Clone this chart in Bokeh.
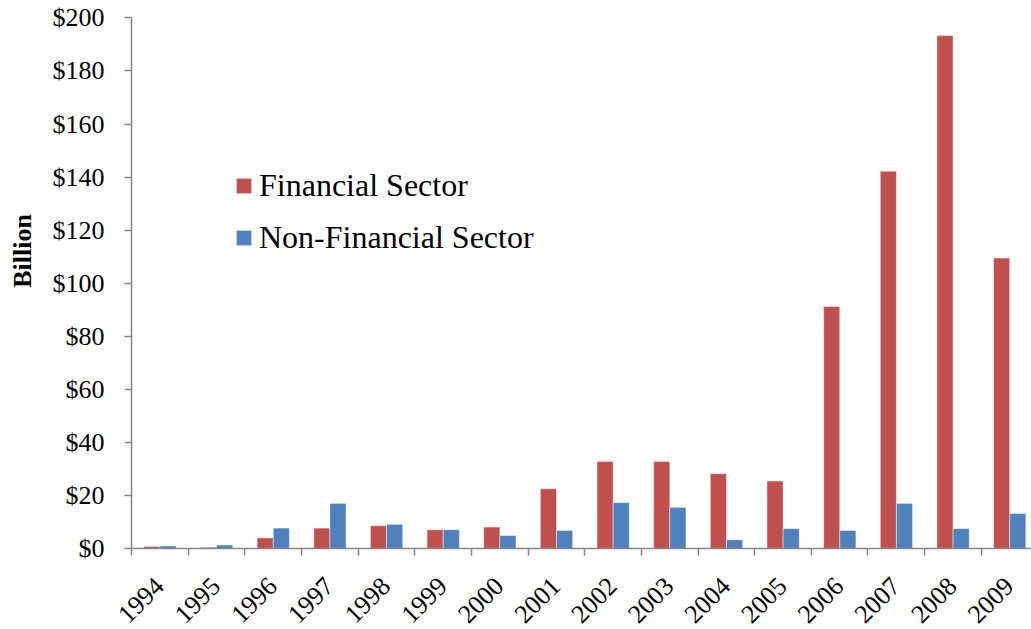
import numpy as np
from math import pi
from bokeh.plotting import figure
from bokeh.models import (ColumnDataSource, Range1d, FixedTicker, CustomJSTickFormatter,
                          NumeralTickFormatter, Legend, LegendItem, Label)
from bokeh.core.properties import value
from bokeh.embed import file_html
from bokeh.resources import INLINE

years = ["1994", "1995", "1996", "1997", "1998", "1999", "2000", "2001",
         "2002", "2003", "2004", "2005", "2006", "2007", "2008", "2009"]
financial = [0.9, 0.6, 4.1, 7.8, 8.7, 7.2, 8.2, 22.6, 32.9, 32.9, 28.3, 25.5,
             91.3, 142.2, 193.3, 109.5]
non_financial = [1.1, 1.4, 7.8, 17.1, 9.2, 7.2, 5.0, 6.9, 17.4, 15.6, 3.4, 7.6,
                 6.9, 17.1, 7.6, 13.3]
y_ticks = [0, 20, 40, 60, 80, 100, 120, 140, 160, 180, 200]
series_names = ["Financial Sector", "Non-Financial Sector"]
y_label = "Billion"

RED = "#C0504D"
BLUE = "#4F81BD"
AXIS = "#868686"
FONT = "Liberation Serif"

# canvas geometry (pixels): plot area from x=131 to the right edge, y=17..548
W, H = 1031, 629
AX_X, TOP_Y, BASE_Y = 131, 17.3, 548.3
PX_X = 56.65                      # pixels per category
PX_Y = (BASE_Y - TOP_Y) / 200.0   # pixels per billion
x_start, x_end = -AX_X / PX_X, (W - AX_X) / PX_X
y_start, y_end = -(H - BASE_Y) / PX_Y, 200 + TOP_Y / PX_Y

idx = np.arange(len(years))
src = ColumnDataSource(dict(year=years, fin=financial, nonfin=non_financial,
                            xf=idx + 0.36, xn=idx + 0.645,
                            xl=idx + 0.5 - 0.115,
                            yl=[-27 / PX_Y] * len(years)))

p = figure(width=W, height=H, output_backend="svg", toolbar_location=None,
           x_range=Range1d(x_start, x_end), y_range=Range1d(y_start, y_end),
           min_border=0, min_border_left=0, min_border_right=0,
           min_border_top=0, min_border_bottom=0)
p.outline_line_color = None
p.grid.visible = False

r1 = p.vbar(x="xf", top="fin", width=0.285, source=src, fill_color=RED,
            line_color="white", line_alpha=0.45, line_width=1)
r2 = p.vbar(x="xn", top="nonfin", width=0.285, source=src, fill_color=BLUE,
            line_color="white", line_alpha=0.45, line_width=1)

ya = p.yaxis[0]
ya.fixed_location = 0
ya.bounds = (0, 200)
ya.ticker = FixedTicker(ticks=y_ticks, minor_ticks=[])
ya.formatter = NumeralTickFormatter(format="$0")
ya.major_tick_in = 0
ya.major_tick_out = 7
ya.minor_tick_line_color = None
ya.axis_line_color = AXIS
ya.axis_line_width = 1.5
ya.major_tick_line_color = AXIS
ya.major_tick_line_width = 1.5
ya.major_label_text_font = FONT
ya.major_label_text_font_size = "26px"
ya.major_label_text_color = "black"
ya.major_label_standoff = 20

xa = p.xaxis[0]
xa.fixed_location = 0
xa.bounds = (0, x_end)
xa.ticker = FixedTicker(ticks=[], minor_ticks=list(range(0, len(years) + 1)))
xa.formatter = CustomJSTickFormatter(code="return '';")
xa.major_tick_line_color = None
xa.major_tick_in = 0
xa.major_tick_out = 0
xa.minor_tick_in = 0
xa.minor_tick_out = 7
xa.minor_tick_line_color = AXIS
xa.minor_tick_line_width = 1.5
xa.axis_line_color = AXIS
xa.axis_line_width = 1.5

# rotated year labels under each category
p.text(x="xl", y="yl", text="year", source=src, angle=pi / 4,
       text_align="right", text_baseline="top", text_font=value(FONT),
       text_font_size="26px", text_color="black")

lab = Label(x=(22 - AX_X) / PX_X, y=(BASE_Y - 250.5) / PX_Y, text=y_label,
            angle=pi / 2, text_align="center", text_baseline="middle",
            text_font=FONT, text_font_size="26px", text_font_style="bold",
            text_color="black")
p.add_layout(lab)

legend = Legend(items=[LegendItem(label=series_names[0], renderers=[r1]),
                       LegendItem(label=series_names[1], renderers=[r2])],
                location=(234, 372), glyph_width=19, glyph_height=19,
                label_text_font=FONT, label_text_font_size="32px",
                label_text_color="black",
                label_standoff=6, spacing=12, label_height=40, padding=0, margin=0,
                border_line_color=None, background_fill_alpha=0)
p.add_layout(legend)

open("out.html", "w").write(file_html(p, INLINE))
